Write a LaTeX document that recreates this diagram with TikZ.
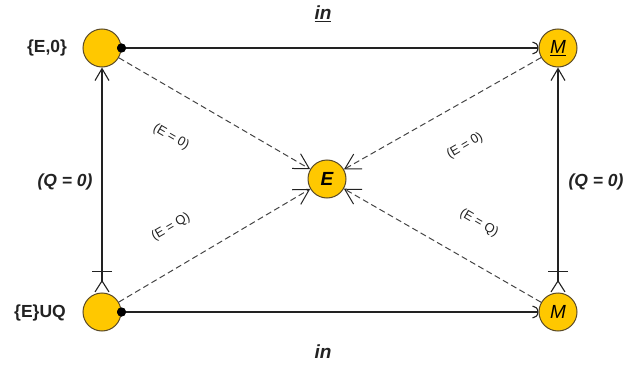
\documentclass[tikz,border=0pt]{standalone}
\usepackage{fontspec}
\setmainfont{Liberation Sans}
\usetikzlibrary{arrows.meta}
\definecolor{gold}{HTML}{FFC800}
\definecolor{rim}{HTML}{5A4A28}
\definecolor{ink}{HTML}{222222}
\definecolor{dash}{HTML}{444444}
\begin{document}
\begin{tikzpicture}[x=1pt,y=-1pt,
  state/.style={circle,fill=gold,draw=rim,line width=1pt,minimum size=38pt,inner sep=0pt,font=\fontsize{19}{19}\selectfont},
  dot/.style={circle,fill=black,minimum size=9pt,inner sep=0pt},
  solidarc/.style={draw=ink,line width=1.1pt,-{Arc Barb[length=6pt,width=13pt]}},
  vertarc/.style={draw=ink,line width=1.1pt,{Straight Barb[reversed,length=11pt,width=14pt]Bar[width=20pt,sep=8pt]}-{Straight Barb[length=12pt,width=14pt]}},
  dasharc/.style={draw=dash,line width=1pt,dash pattern=on 6pt off 3.5pt,-{Straight Barb[length=15pt,width=17pt,line width=1pt,ink]}},
  sidelab/.style={font=\bfseries\fontsize{17.5}{17.5}\selectfont,text=ink},
  condlab/.style={font=\bfseries\itshape\fontsize{17.5}{17.5}\selectfont,text=ink},
  inlab/.style={font=\bfseries\itshape\fontsize{19}{19}\selectfont,text=ink},
  eqlab/.style={font=\fontsize{13}{13}\selectfont,text=ink}]
\useasboundingbox (0,0) rectangle (624,369);
\node[state] (tl) at (102,48) {};
\node[state] (tr) at (558,48) {\itshape\underline{M}};
\node[state] (e) at (327,179) {\bfseries\itshape E};
\node[state] (bl) at (102,312) {};
\node[state] (br) at (558,312) {\itshape M};
\node[dot] (dtl) at (tl.east) {};
\node[dot] (dbl) at (bl.east) {};
\draw[solidarc] (dtl.center) -- (tr);
\draw[solidarc] (dbl.center) -- (br);
\draw[vertarc] (bl) -- (tl);
\draw[vertarc] (br) -- (tr);
\draw[dasharc] (tl) -- (e);
\draw[dasharc] (tr) -- (e);
\draw[dasharc] (bl) -- (e);
\draw[dasharc] (br) -- (e);
\node[dot] at (tl.east) {};
\node[dot] at (bl.east) {};
\node[sidelab] (l1) at (47,48) {\{E,0\}};
\node[sidelab] (l2) at (40,313) {\{E\}UQ};
\node[inlab] (in1) at (323,14) {\underline{in}};
\node[inlab] (in2) at (323,352) {in};
\node[condlab] (q1) at (65,182) {(Q = 0)};
\node[condlab] (q2) at (596,182) {(Q = 0)};
\node[eqlab,rotate=-30] (a1) at (171,137) {(E = 0)};
\node[eqlab,rotate=30] (a2) at (171,227) {(E = Q)};
\node[eqlab,rotate=30] (a3) at (465,146) {(E = 0)};
\node[eqlab,rotate=-30] (a4) at (479,223) {(E = Q)};
\end{tikzpicture}
\end{document}
